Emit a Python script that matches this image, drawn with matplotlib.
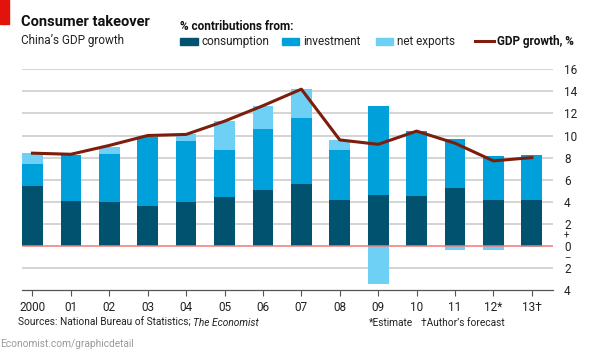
import numpy as np
import matplotlib.pyplot as plt
import matplotlib.patches as mpatches
from matplotlib.lines import Line2D

years = ['2000', '01', '02', '03', '04', '05', '06', '07', '08', '09', '10', '11', '12*', '13\u2020']
consumption = [5.4, 4.1, 4.0, 3.6, 4.0, 4.4, 5.1, 5.6, 4.2, 4.6, 4.5, 5.2, 4.2, 4.2]
investment = [2.0, 4.1, 4.3, 6.3, 5.5, 4.3, 5.5, 6.0, 4.5, 8.1, 5.9, 4.5, 3.9, 4.0]
net_exports = [1.0, 0.0, 0.7, 0.1, 0.6, 2.6, 2.1, 2.6, 0.9, -3.5, 0.0, -0.4, -0.4, -0.1]
gdp_growth = [8.4, 8.3, 9.1, 10.0, 10.1, 11.3, 12.7, 14.2, 9.6, 9.2, 10.4, 9.3, 7.7, 8.0]

c_cons = '#00526e'
c_inv = '#00a1db'
c_nx = '#6fd0f6'
c_gdp = '#7d1d0c'
c_grid = '#c9c9c9'
c_text = '#222222'

plt.rcParams['font.family'] = ['Roboto', 'DejaVu Sans']

W, H = 595, 353
fig = plt.figure(figsize=(5.95, 3.53), dpi=100)
ax = fig.add_axes([21.7 / W, 1 - 290 / H, (553 - 21.7) / W, (290 - 69.3) / H])


def fx(px):
    return px / W


def fy(py):
    return 1 - py / H


x = np.arange(len(years))
cons = np.array(consumption)
inv = np.array(investment)
nx = np.array(net_exports)
w = 0.54

ax.bar(x, cons, w, color=c_cons, zorder=2)
ax.bar(x, inv, w, bottom=cons, color=c_inv, zorder=2)
nx_bottom = np.where(nx > 0, cons + inv, 0)
ax.bar(x, nx, w, bottom=nx_bottom, color=c_nx, zorder=2)
ax.plot(x, gdp_growth, color=c_gdp, lw=2.2, zorder=4)

ax.set_xlim(-0.28, 13.55)
ax.set_ylim(-4, 16)

for v in [2, 4, 6, 8, 10, 12, 14, 16, -2]:
    ax.axhline(v, color=c_grid, lw=1.1, zorder=1)
ax.axhline(0, color='#f07a7a', lw=1.1, zorder=3)

for s in ['top', 'left', 'right']:
    ax.spines[s].set_visible(False)
ax.spines['bottom'].set_color('#555555')
ax.spines['bottom'].set_linewidth(0.9)

ax.set_xticks(x)
ax.set_xticklabels(years, fontsize=8.5, color=c_text)
ax.tick_params(axis='x', length=4, width=0.8, color='#555555', pad=4)

yt = [16, 14, 12, 10, 8, 6, 4, 2, 1, 0, -1, -2, -4]
ylab = ['16', '14', '12', '10', '8', '6', '4', '2', '+', '0', '\u2013', '2', '4']
ax.yaxis.tick_right()
ax.set_yticks(yt)
ax.set_yticklabels(ylab, fontsize=8.5, color=c_text)
ax.tick_params(axis='y', length=0, pad=8)
for t in ax.get_yticklabels():
    if t.get_text() in ['+', '\u2013']:
        t.set_fontsize(7)

# header
fig.patches.append(mpatches.Rectangle((0, fy(24)), fx(9), 24 / H,
                                      transform=fig.transFigure, color='#e3120b'))
fig.text(fx(21), fy(22), 'Consumer takeover', fontsize=10.5, fontweight='bold',
         va='center', color='#111111')
fig.text(fx(21), fy(40.5), 'China\u2019s GDP growth', fontsize=8.5, va='center', color=c_text)
fig.text(fx(180), fy(26), '% contributions from:', fontsize=8.5, fontweight='bold',
         va='center', color='#111111')

# legend, placed item by item
legend_items = [('consumption', c_cons, 180), ('investment', c_inv, 281.5), ('net exports', c_nx, 375.5)]
for label, col, px in legend_items:
    fig.patches.append(mpatches.Rectangle((fx(px), fy(44.5)), fx(17.5), 6.5 / H,
                                          transform=fig.transFigure, color=col))
    fig.text(fx(px + 21.5), fy(41.5), label, fontsize=8.5, va='center', color=c_text)
fig.lines.append(Line2D([fx(475), fx(493.5)], [fy(41.3), fy(41.3)], transform=fig.transFigure,
                        color=c_gdp, lw=2.2))
fig.text(fx(497), fy(41.5), 'GDP growth, %', fontsize=8.5, fontweight='bold', va='center',
         color='#111111')

# footer
fs_foot = 7.3
src = fig.text(fx(18), fy(322.5), 'Sources: National Bureau of Statistics; ', fontsize=fs_foot,
               va='center', color=c_text)
fc = fig.text(fx(505), fy(322.5), '\u2020Author\u2019s forecast', fontsize=fs_foot, va='center',
              ha='right', color=c_text)
fig.canvas.draw()
r = fig.canvas.get_renderer()
bb = src.get_window_extent(renderer=r)
fig.text(bb.x1 / W, fy(322.5), 'The Economist', fontsize=fs_foot, style='italic',
         va='center', color=c_text)
bb2 = fc.get_window_extent(renderer=r)
fig.text((bb2.x0 - 8) / W, fy(322.5), '*Estimate', fontsize=fs_foot, va='center', ha='right',
         color=c_text)
fig.text(0, fy(344), 'Economist.com/graphicdetail', fontsize=fs_foot, va='center', color='#9a9a9a')

fig.savefig('out.png', dpi=100)
